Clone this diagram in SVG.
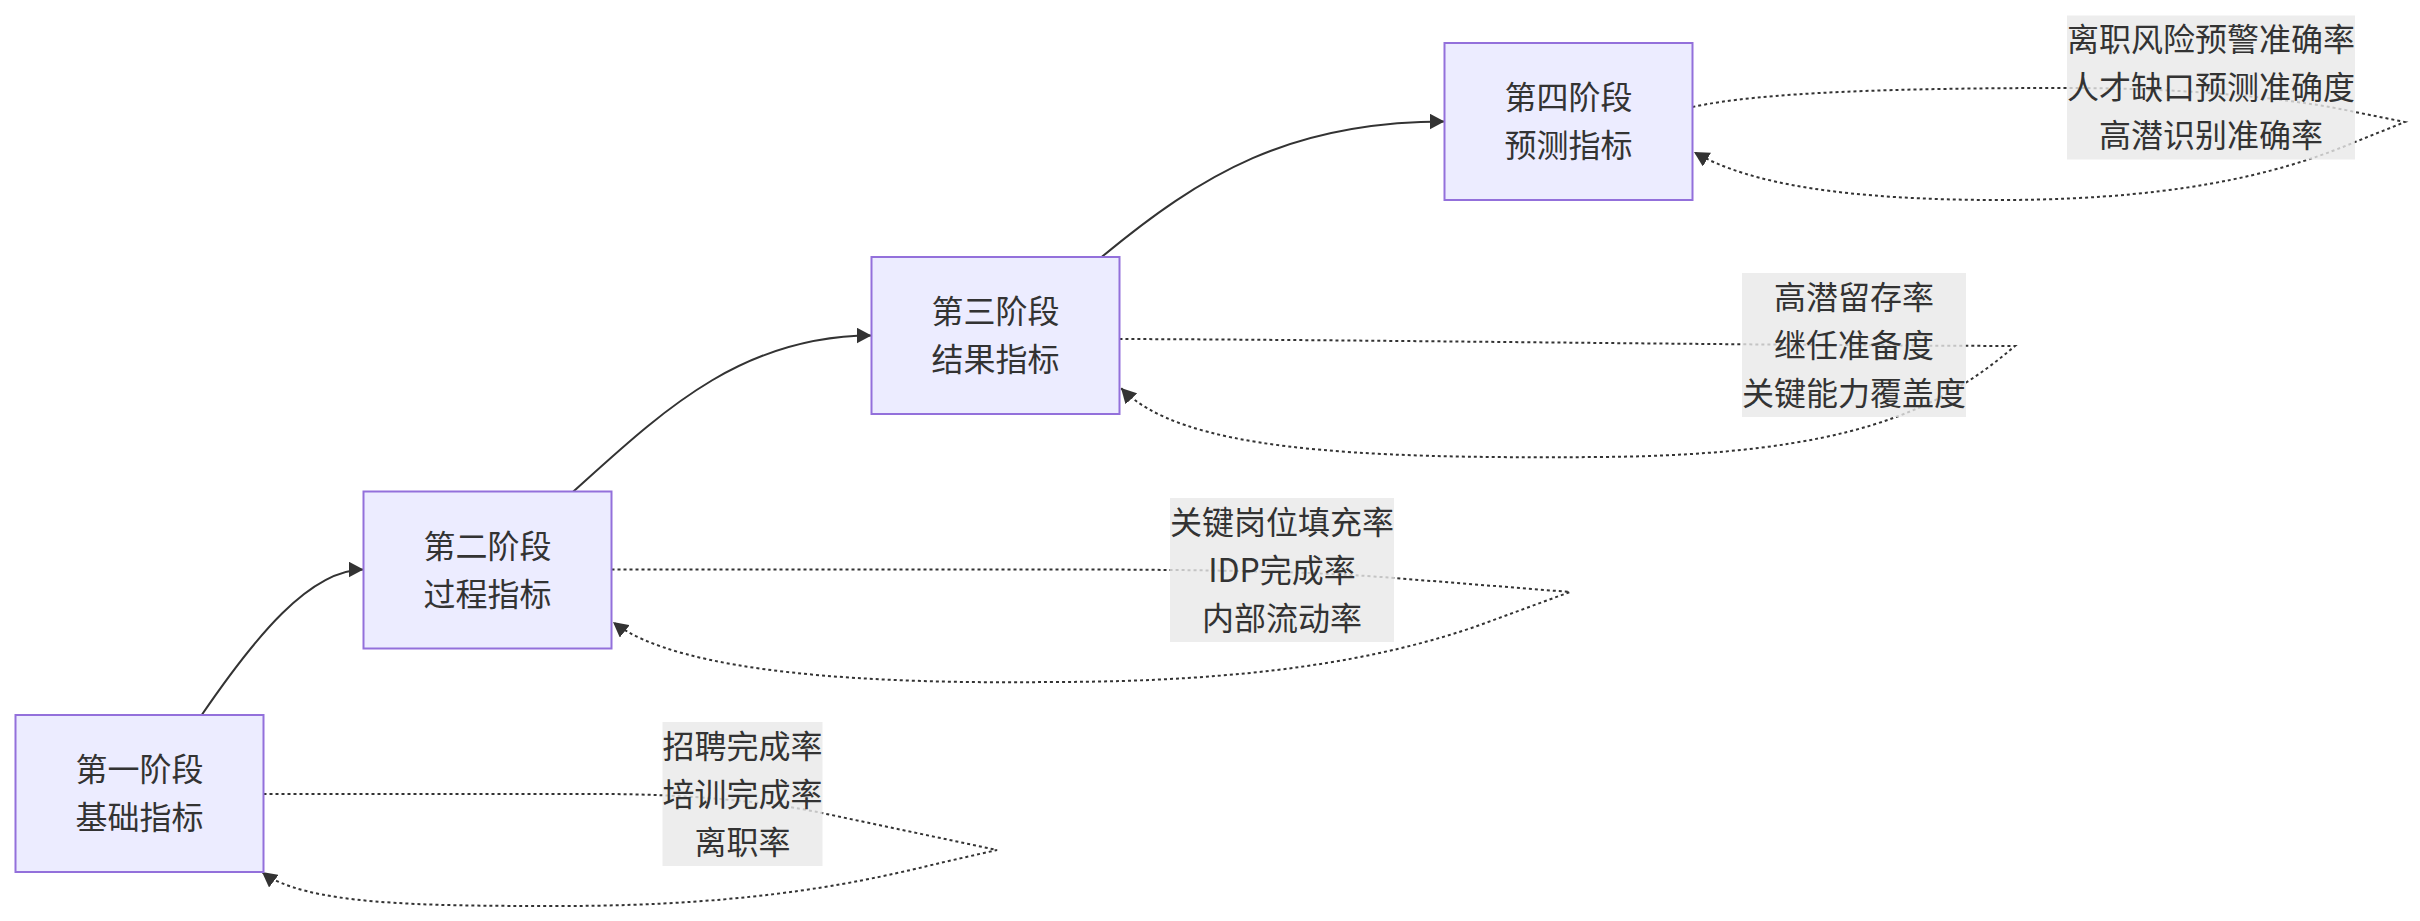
<svg xmlns="http://www.w3.org/2000/svg" width="2420" height="921" viewBox="0 0 2420 921">
<style>
.node rect{fill:#ECECFF;stroke:#9370DB;stroke-width:2}
text{font-family:"Noto Sans CJK SC","Noto Sans",sans-serif;font-size:32px;fill:#333333;text-anchor:middle}
.edge{fill:none;stroke:#333333;stroke-width:2}
.dotted{stroke-dasharray:3 3}
.lbl rect{fill:rgba(232,232,232,0.8);stroke:none}
</style>
<defs>
<marker id="arrow" viewBox="0 0 15 16" refX="15" refY="8" markerWidth="15" markerHeight="16" markerUnits="userSpaceOnUse" orient="auto">
<path d="M0,0 L15,8 L0,16 z" fill="#333333"/>
</marker>
</defs>
<rect width="2420" height="921" fill="#ffffff"/>
<g id="connectors">
<path class="edge" d="M201.7,715 C255,637 310,569.5 363.5,569.5" marker-end="url(#arrow)"/>
<path class="edge" d="M573.3,491.5 C660,413.5 740,335.5 871.5,335.5" marker-end="url(#arrow)"/>
<path class="edge" d="M1101.7,257 C1201.7,174.1 1290,121.5 1444.5,121.5" marker-end="url(#arrow)"/>
<path class="edge dotted" d="M263.5,794 L600,794 C690,794 770,802 822,813 L997,850 L940,863 C870,880 760,906 560,906 C420,906 305,905 262,872" marker-end="url(#arrow)"/>
<path class="edge dotted" d="M611.5,569.5 L1100,569.5 C1230,570 1320,572 1394,578 L1570,592 L1480,625 C1380,660 1250,682 1050,682 C880,684 680,675 613,622" marker-end="url(#arrow)"/>
<path class="edge dotted" d="M1119.5,339 C1400,340 1700,345 2015,346 C1940,410 1850,455 1600,457 C1350,459 1180,450 1121,388" marker-end="url(#arrow)"/>
<path class="edge dotted" d="M1692.5,107 C1760,92 1900,88 2067,88 C2200,88 2300,100 2355,112 L2405,122 L2355,142 C2300,165 2200,200 2000,200 C1850,200 1750,185 1694,152" marker-end="url(#arrow)"/>
</g>
<g id="label-1" class="lbl">
<rect x="662.5" y="722" width="160" height="144"/>
<text x="742.5" y="757.5">招聘完成率</text>
<text x="742.5" y="805.5">培训完成率</text>
<text x="742.5" y="853.5">离职率</text>
</g>
<g id="label-2" class="lbl">
<rect x="1170" y="498" width="224" height="144"/>
<text x="1282" y="533.5">关键岗位填充率</text>
<text x="1282" y="581.5">IDP完成率</text>
<text x="1282" y="629.5">内部流动率</text>
</g>
<g id="label-3" class="lbl">
<rect x="1742" y="273" width="224" height="144"/>
<text x="1854" y="308.5">高潜留存率</text>
<text x="1854" y="356.5">继任准备度</text>
<text x="1854" y="404.5">关键能力覆盖度</text>
</g>
<g id="label-4" class="lbl">
<rect x="2067" y="15.5" width="288" height="144"/>
<text x="2211" y="51">离职风险预警准确率</text>
<text x="2211" y="99">人才缺口预测准确度</text>
<text x="2211" y="147">高潜识别准确率</text>
</g>
<g id="stage1" class="node">
<rect x="15.5" y="715" width="248" height="157"/>
<text x="139.5" y="781">第一阶段</text>
<text x="139.5" y="829">基础指标</text>
</g>
<g id="stage2" class="node">
<rect x="363.5" y="491.5" width="248" height="157"/>
<text x="487.5" y="557.5">第二阶段</text>
<text x="487.5" y="605.5">过程指标</text>
</g>
<g id="stage3" class="node">
<rect x="871.5" y="257" width="248" height="157"/>
<text x="995.5" y="323">第三阶段</text>
<text x="995.5" y="371">结果指标</text>
</g>
<g id="stage4" class="node">
<rect x="1444.5" y="43" width="248" height="157"/>
<text x="1568.5" y="109">第四阶段</text>
<text x="1568.5" y="157">预测指标</text>
</g>
</svg>
